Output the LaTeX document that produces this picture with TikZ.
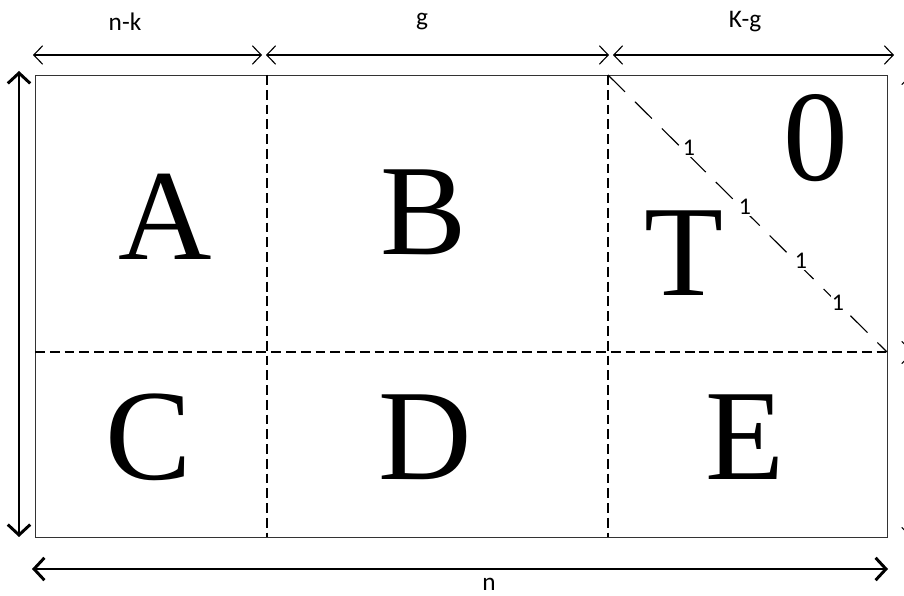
\documentclass[tikz,border=0pt]{standalone}
\usepackage{fontspec}
\setmainfont{Carlito}
\newfontfamily\blockfont{Liberation Serif}
\usetikzlibrary{arrows.meta, positioning}

\tikzset{
  blocktext/.style={font=\blockfont\fontsize{92}{92}\selectfont, inner sep=0pt},
  dimtext/.style={font=\fontsize{18}{18}\selectfont, inner sep=0pt},
  unittext/.style={font=\fontsize{17}{17}\selectfont, fill=white, inner sep=0.8pt},
  thindim/.style={{Straight Barb[length=2.2mm,width=4.6mm]}-{Straight Barb[length=2.2mm,width=4.6mm]}, line width=0.8pt},
  thickdim/.style={{Straight Barb[length=2.6mm,width=5.6mm]}-{Straight Barb[length=2.6mm,width=5.6mm]}, line width=2.1pt},
  divider/.style={line width=0.9pt, dash pattern=on 7pt off 3.5pt},
  diagline/.style={line width=0.8pt, dash pattern=on 17pt off 10pt}
}

\begin{document}
\begin{tikzpicture}[x=0.025cm, y=-0.025cm]
  \useasboundingbox (0,0) rectangle (904,596);
  \clip (0,0) rectangle (904,596);

  % matrix outline and block corners
  \coordinate (nw) at (35,75);
  \coordinate (ne) at (887,75);
  \coordinate (sw) at (35,537);
  \coordinate (se) at (887,537);
  \coordinate (c1top) at (267,75);
  \coordinate (c1bot) at (267,537);
  \coordinate (c2top) at (608,75);
  \coordinate (c2bot) at (608,537);
  \coordinate (rowl) at (35,352);
  \coordinate (rowr) at (887,352);

  \draw[line width=0.7pt, black!80] (nw) rectangle (se);
  \draw[divider] (c1top) -- (c1bot);
  \draw[divider] (c2top) -- (c2bot);
  \draw[divider] (rowl) -- (rowr);
  \draw[diagline] (c2top) -- (rowr);

  % block letters
  \node[blocktext] (blkA) at (165,217) {A};
  \node[blocktext] (blkB) at (424,212) {B};
  \node[blocktext] (blkT) at (684,253) {T};
  \node[blocktext] (zero) at (816,138) {0};
  \node[blocktext] (blkC) at (149,437) {C};
  \node[blocktext] (blkD) at (425,437) {D};
  \node[blocktext] (blkE) at (745,437) {E};

  % unit diagonal
  \foreach \k/\px/\py in {1/689/148, 2/745/207, 3/801/261, 4/838/303}
    \node[unittext] (one\k) at (\px,\py) {1};

  % column widths
  \coordinate (d1l) at (33,55);
  \coordinate (d1r) at (262,55);
  \coordinate (d2l) at (266,55);
  \coordinate (d2r) at (609,55);
  \coordinate (d3l) at (613,55);
  \coordinate (d3r) at (894,55);
  \draw[thindim] (d1l) -- (d1r);
  \draw[thindim] (d2l) -- (d2r);
  \draw[thindim] (d3l) -- (d3r);
  \node[dimtext] (wnk) at (125,22) {n-k};
  \node[dimtext] (wg) at (422,22) {g};
  \node[dimtext] (wkg) at (745,22) {K-g};

  % total height and width
  \coordinate (hup) at (19,71);
  \coordinate (hdown) at (19,537);
  \draw[thickdim] (hup) -- (hdown);
  \coordinate (wl) at (32,569);
  \coordinate (wr) at (888,569);
  \draw[thickdim] (wl) -- (wr);
  \node[dimtext] (wn) at (489,584) {n};

  % row heights, cut off at the right edge
  \coordinate (r1t) at (911,75);
  \coordinate (r1b) at (911,351);
  \coordinate (r2t) at (911,354);
  \coordinate (r2b) at (911,537);
  \draw[thindim] (r1t) -- (r1b);
  \draw[thindim] (r2t) -- (r2b);
\end{tikzpicture}
\end{document}
